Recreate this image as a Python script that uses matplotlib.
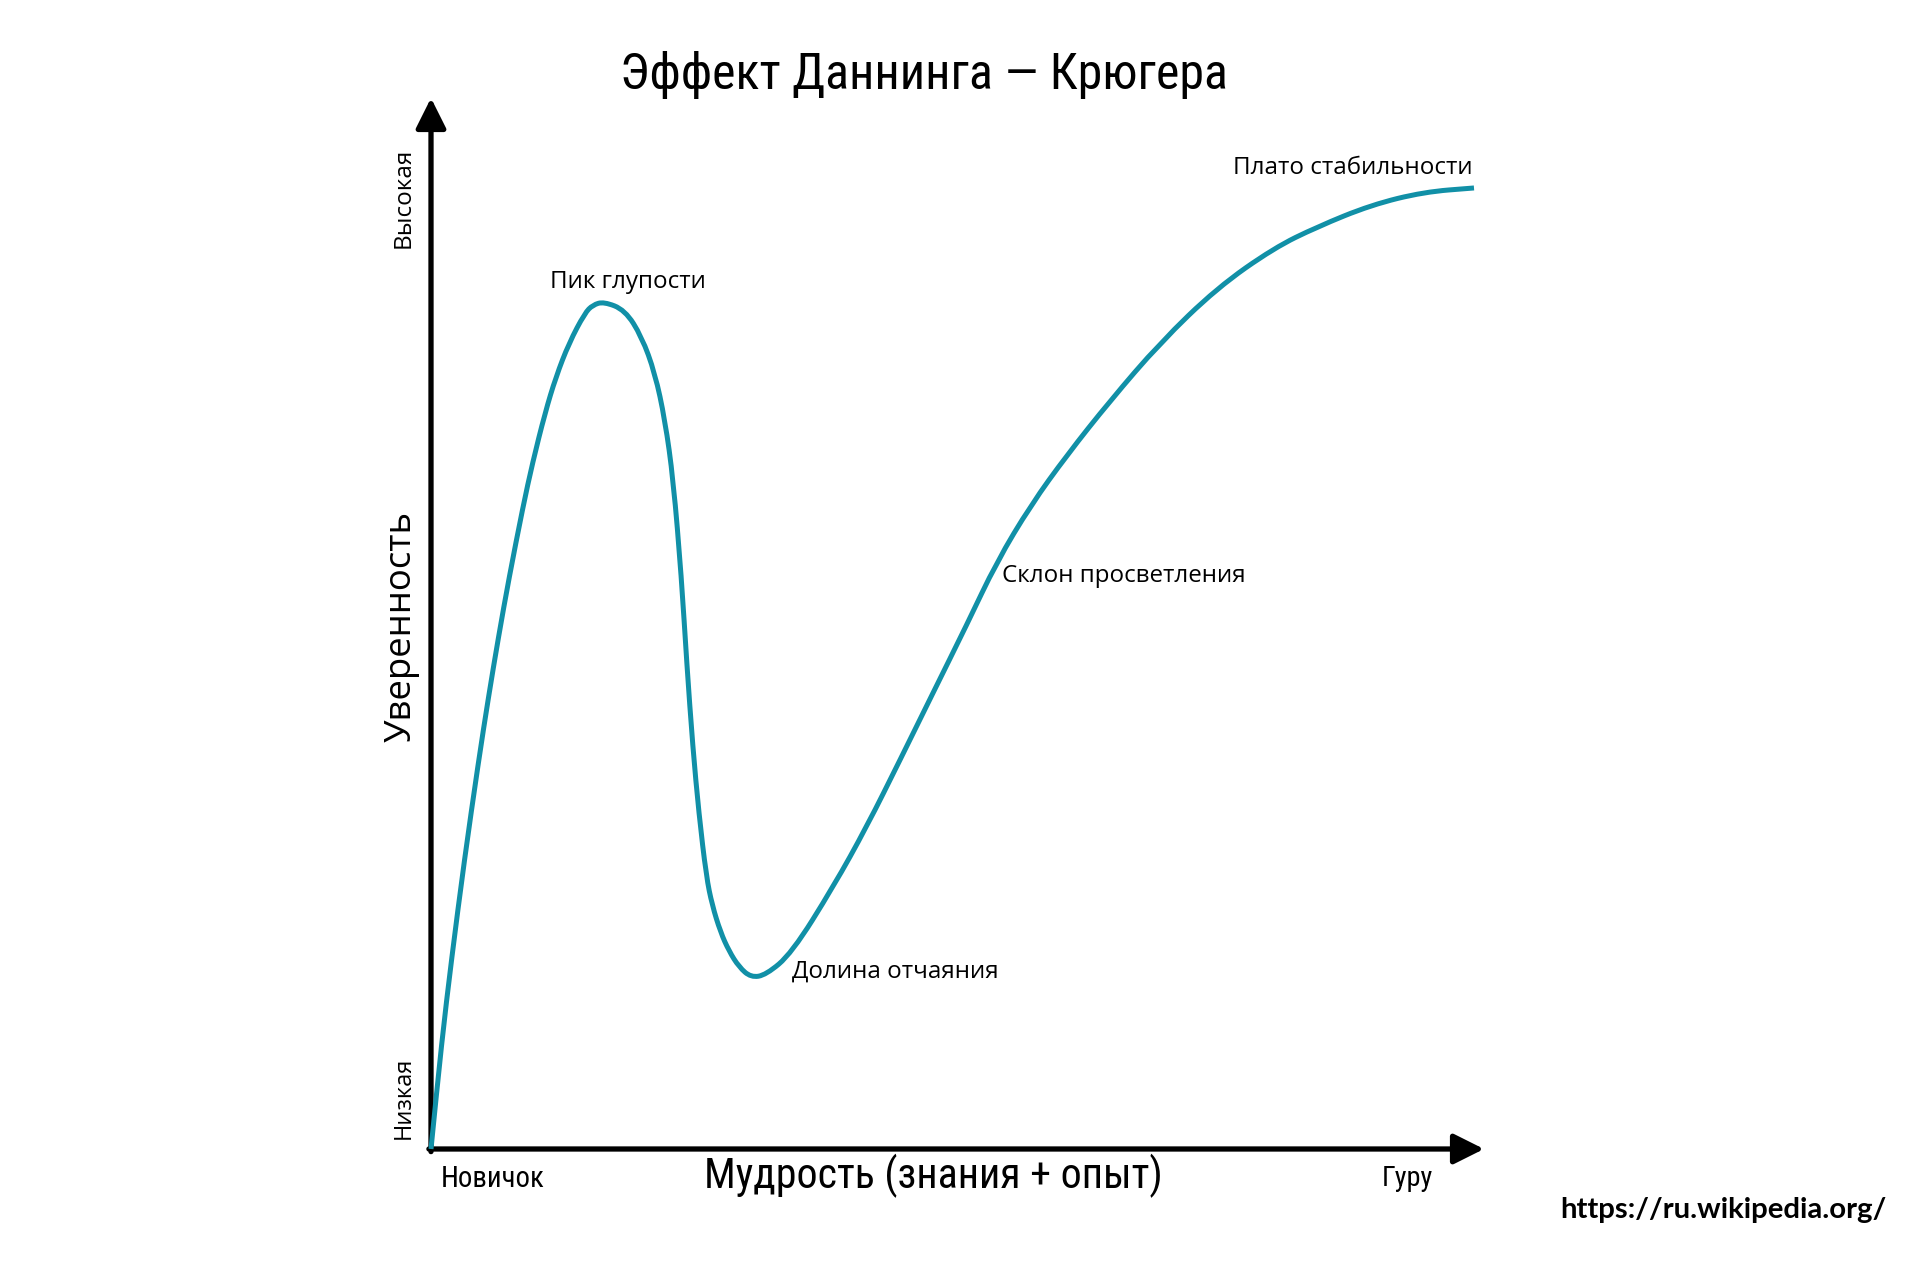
import matplotlib

matplotlib.use("Agg")
import matplotlib.pyplot as plt
from matplotlib import font_manager
from matplotlib.font_manager import FontProperties
from matplotlib.ft2font import FT2Font
from matplotlib.path import Path
from matplotlib.patches import PathPatch
from matplotlib.textpath import TextPath

# curve: wisdom (0..100) vs confidence (0..100)
wisdom = [0, 1.01, 1.94, 3.17, 4.49, 5.46, 6.41, 7.41, 8.73, 9.64, 10.83, 11.86, 13.11,
          14.61, 15.37, 16.41, 18.42, 20.01, 21.27, 22.22, 23.01, 23.78, 24.29, 24.86,
          25.44, 26.15, 26.70, 27.49, 28.30, 29.25, 30.39, 31.81, 34.25, 38.21, 41.38,
          44.54, 47.67, 50.87, 53.72, 56.98, 60.40, 64.48, 69.23, 74.64, 80.06, 84.14,
          89.27, 94.30, 99.05]
confidence = [0, 10.09, 17.98, 27.50, 36.73, 43.01, 48.72, 54.33, 61.08, 65.27, 70.03, 73.45, 76.69,
              79.54, 80.31, 80.62, 79.83, 77.29, 73.81, 69.36, 63.65, 54.42, 46.21, 38.28,
              31.94, 25.91, 23.22, 20.65, 18.84, 17.32, 16.32, 16.56, 18.62, 24.96, 30.67,
              37.01, 43.39, 49.86, 55.85, 61.28, 66.03, 71.17, 76.69, 81.92, 85.73, 87.73,
              89.82, 91.06, 91.44]

stage_labels = ["Пик глупости", "Долина отчаяния", "Склон просветления", "Плато стабильности"]
stage_pos = [(11.3, 82.5), (34.3, 16.9), (54.2, 54.5), (98.95, 93.3)]
stage_ha = ["left", "left", "left", "right"]

TITLE = "Эффект Даннинга — Крюгера"
TEAL = "#1190a7"
SANS = ["Open Sans", "Noto Sans", "Roboto", "Liberation Sans", "DejaVu Sans", "Lato", "Inter"]


def pick(*names):
    have = {f.name for f in font_manager.fontManager.ttflist}
    for n in names:
        if n in have:
            return FontProperties(family=n)
    return FontProperties(family="DejaVu Sans")


def narrow_face(target=16.4):
    """Sans face with Cyrillic whose title width / cap height is closest to the picture's."""
    best, best_key = None, None
    for f in font_manager.fontManager.ttflist:
        if f.style != "normal" or f.weight not in (300, 400, "normal", "light"):
            continue
        if not any(f.name.startswith(s) for s in SANS) or "Mono" in f.name:
            continue
        try:
            if 0x42D not in FT2Font(f.fname).get_charmap():
                continue
            fp = FontProperties(fname=f.fname)
            w = TextPath((0, 0), TITLE, size=100, prop=fp).get_extents().width
            h = TextPath((0, 0), "Э", size=100, prop=fp).get_extents().height
        except Exception:
            continue
        key = (round(abs(w / h - target), 1), 0 if f.name.startswith("Open Sans") else 1,
               0 if f.weight in (400, "normal") else 1)
        if best_key is None or key < best_key:
            best, best_key = fp, key
    return best


REGULAR = pick("Open Sans", "Noto Sans")
NARROW = narrow_face() or REGULAR
URLFONT = pick("Lato", "Open Sans")

fig = plt.figure(figsize=(19.2, 12.61), dpi=100)
ax = fig.add_axes([431 / 1920, 112 / 1261, 1053 / 1920, 1051 / 1261])
ax.set_xlim(0, 100)
ax.set_ylim(0, 100)
ax.set_axis_off()

# axes with arrows
arrow = dict(arrowstyle="-|>", lw=3.8, color="black", mutation_scale=46, shrinkA=0, shrinkB=0)
ax.annotate("", xy=(0, 100), xytext=(0, -0.25), arrowprops=arrow, annotation_clip=False)
ax.annotate("", xy=(100, 0), xytext=(-0.2, 0), arrowprops=arrow, annotation_clip=False)

# smooth curve: quadratic segments through midpoints of the read points
pts = list(zip(wisdom, confidence))
mid = lambda a, b: ((a[0] + b[0]) / 2, (a[1] + b[1]) / 2)
verts = [pts[0], mid(pts[0], pts[1])]
codes = [Path.MOVETO, Path.LINETO]
for i in range(1, len(pts) - 1):
    verts += [pts[i], mid(pts[i], pts[i + 1])]
    codes += [Path.CURVE3, Path.CURVE3]
verts.append(pts[-1])
codes.append(Path.LINETO)
ax.add_patch(PathPatch(Path(verts, codes), fill=False, edgecolor=TEAL, lw=3.6,
                       capstyle="butt", joinstyle="round", clip_on=False, zorder=3))

for lab, (x, y), ha in zip(stage_labels, stage_pos, stage_ha):
    ax.text(x, y, lab, ha=ha, va="center", fontsize=17.4, fontproperties=REGULAR)

ax.text(-2.6, 90.5, "Высокая", rotation=90, ha="center", va="center", fontsize=17.5, fontproperties=REGULAR)
ax.text(-2.6, 4.9, "Низкая", rotation=90, ha="center", va="center", fontsize=17, fontproperties=REGULAR)
ax.text(-2.8, 49.7, "Уверенность", rotation=90, ha="center", va="center", fontsize=26.3, fontproperties=REGULAR)

# narrow texts: sized to the widths measured on the picture (pixels)
fitted = [
    (ax.text(0.95, -2.85, "Новичок", ha="left", va="center", fontproperties=NARROW), 103),
    (ax.text(95.2, -2.85, "Гуру", ha="right", va="center", fontproperties=NARROW), 51),
    (ax.text(47.7, -2.6, "Мудрость (знания + опыт)", ha="center", va="center", fontproperties=NARROW), 459),
    (fig.text(924 / 1920, 1 - 75 / 1261, TITLE, ha="center", va="center", fontproperties=NARROW), 607),
]
for t, _ in fitted:
    t.set_fontsize(20)

fig.text(1887 / 1920, 1 - 1210 / 1261, "https://ru.wikipedia.org/", ha="right", va="center",
         fontsize=21.2, fontproperties=URLFONT, weight="bold")

fig.canvas.draw()
renderer = fig.canvas.get_renderer()
for t, w in fitted:
    t.set_fontsize(20 * w / t.get_window_extent(renderer).width)

fig.savefig("out.png", dpi=100, facecolor="white")
